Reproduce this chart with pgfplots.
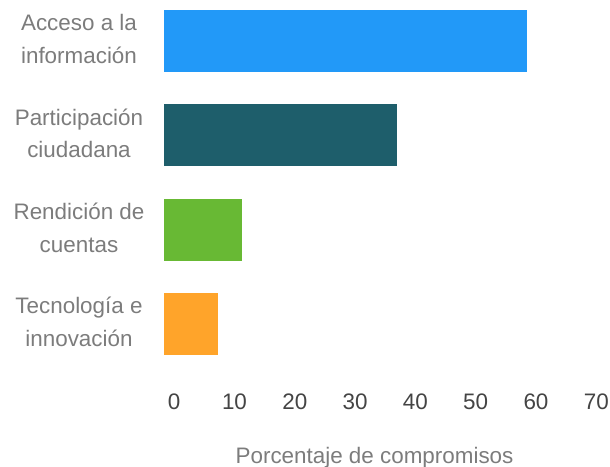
\documentclass[border=0pt]{standalone}
\usepackage{fontspec}
\setmainfont{Liberation Sans}
\usepackage{pgfplots}
\pgfplotsset{compat=1.18}

\definecolor{cBlue}{HTML}{2299F8}
\definecolor{cTeal}{HTML}{1E5E6B}
\definecolor{cGreen}{HTML}{68B934}
\definecolor{cOrange}{HTML}{FFA42A}
\definecolor{lblgray}{HTML}{7C7C7C}
\definecolor{tickgray}{HTML}{444444}

\begin{document}
\begin{tikzpicture}
  \useasboundingbox (0,0) rectangle (610bp,467bp);
  \begin{axis}[
      at={(163.5bp,95.8bp)}, anchor=south west,
      scale only axis,
      x=6.03bp, y=94.33bp,
      xmin=0, xmax=70, ymin=-0.5, ymax=3.5,
      xbar, bar width=62bp,
      axis line style={draw=none},
      tick style={draw=none},
      major tick length=0pt,
      xtick={0,10,...,70},
      ytick={0,1,2,3},
      yticklabels={{Tecnología e\\innovación},{Rendición de\\cuentas},{Participación\\ciudadana},{Acceso a la\\información}},
      /pgf/number format/assume math mode=true,
      xticklabel style={font=\fontsize{22.5}{27}\selectfont, text=tickgray,
        anchor=center, yshift=-30.8bp, xshift=10.7bp},
      yticklabel style={font=\fontsize{22.5}{33}\selectfont, text=lblgray,
        align=center, anchor=center, xshift=-84.5bp, yshift=2bp},
      xlabel={Porcentaje de compromisos},
      xlabel style={font=\fontsize{22.5}{27}\selectfont, text=lblgray,
        at={(axis description cs:0.5,0)}, anchor=center, yshift=-86.8bp},
    ]
    % Acceso a la información
    \addplot[xbar, bar shift=0pt, draw=none, fill=cBlue] coordinates {(60.3,3)};
    % Participación ciudadana
    \addplot[xbar, bar shift=0pt, draw=none, fill=cTeal] coordinates {(38.7,2)};
    % Rendición de cuentas
    \addplot[xbar, bar shift=0pt, draw=none, fill=cGreen] coordinates {(13.0,1)};
    % Tecnología e innovación
    \addplot[xbar, bar shift=0pt, draw=none, fill=cOrange] coordinates {(9.0,0)};
  \end{axis}
\end{tikzpicture}
\end{document}
